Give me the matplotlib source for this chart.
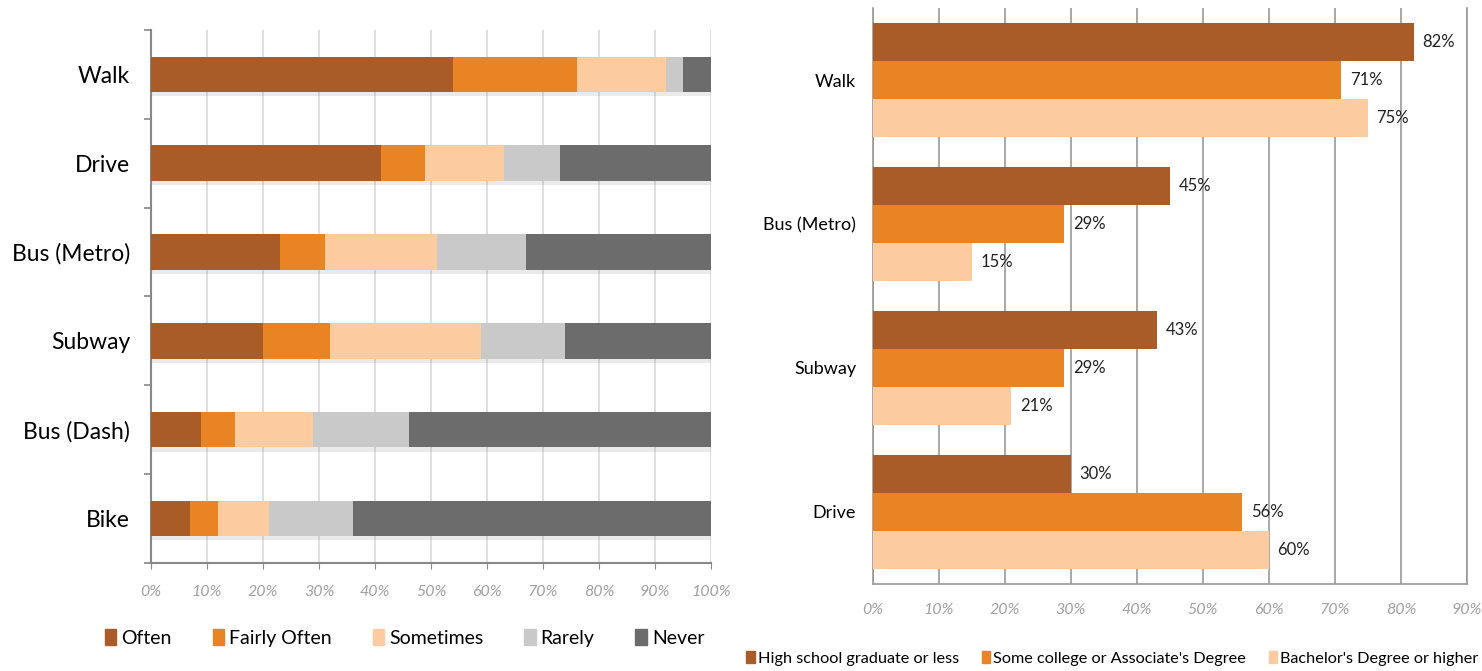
import matplotlib.pyplot as plt
import matplotlib.patheffects as pe
from matplotlib.ticker import FuncFormatter
from matplotlib.patches import Patch
import numpy as np

plt.rcParams['font.family'] = ['Lato', 'DejaVu Sans']

# left chart: frequency of use by mode
modes = ["Walk", "Drive", "Bus (Metro)", "Subway", "Bus (Dash)", "Bike"]
freq_labels = ["Often", "Fairly Often", "Sometimes", "Rarely", "Never"]
often = [54, 41, 23, 20, 9, 7]
fairly_often = [22, 8, 8, 12, 6, 5]
sometimes = [16, 14, 20, 27, 14, 9]
rarely = [3, 10, 16, 15, 17, 15]
never = [5, 27, 33, 26, 54, 64]
freq_colors = ["#A95C27", "#E98424", "#FDCBA0", "#C9C9C9", "#6C6C6C"]

# right chart: use by education level
modes2 = ["Walk", "Bus (Metro)", "Subway", "Drive"]
edu_labels = ["High school graduate or less", "Some college or Associate's Degree",
              "Bachelor's Degree or higher"]
high_school = [82, 45, 43, 30]
some_college = [71, 29, 29, 56]
bachelor = [75, 15, 21, 60]
edu_colors = ["#A95C27", "#E98424", "#FDCBA0"]

fig = plt.figure(figsize=(14.82, 6.71), dpi=100)
pct = FuncFormatter(lambda v, p: f"{v:.0f}%")

# ---- left
ax1 = fig.add_axes([0.1019, 0.161, 0.3779, 0.7943])
y = np.arange(len(modes))
left = np.zeros(len(modes))
shadow = [pe.SimplePatchShadow(offset=(0, -3), alpha=0.15, shadow_rgbFace="#777777"), pe.Normal()]
for vals, c in zip([often, fairly_often, sometimes, rarely, never], freq_colors):
    bars = ax1.barh(y, vals, left=left, height=0.4, color=c, zorder=3)
    for b in bars:
        b.set_path_effects(shadow)
    left += np.array(vals)
ax1.set_xlim(0, 100)
ax1.set_ylim(len(modes) - 0.5, -0.5)
ax1.set_xticks(np.arange(0, 101, 10))
ax1.xaxis.set_major_formatter(pct)
ax1.set_yticks(y)
ax1.set_yticklabels(modes, fontsize=16.5)
ax1.set_yticks(np.arange(-0.5, len(modes), 1), minor=True)
ax1.tick_params(axis="y", which="major", length=0, pad=15)
ax1.tick_params(axis="y", which="minor", length=5, color="#888888", width=1.2)
ax1.tick_params(axis="x", length=4, color="#888888", labelcolor="#A0A0A0", pad=12, labelsize=11.5)
for t in ax1.get_xticklabels():
    t.set_fontstyle("italic")
ax1.grid(axis="x", color="#D9D9D9", linewidth=1.2, zorder=0)
ax1.set_axisbelow(True)
for s in ["top", "right"]:
    ax1.spines[s].set_visible(False)
for s in ["left", "bottom"]:
    ax1.spines[s].set_color("#888888")
    ax1.spines[s].set_linewidth(1.5)

h1 = [Patch(color=c) for c in freq_colors]
fig.legend(h1, freq_labels, loc="center", bbox_to_anchor=(0.273, 0.049), ncol=5,
           frameon=False, fontsize=14, handlelength=0.6, handleheight=0.9,
           handletextpad=0.25, columnspacing=2.1)

# ---- right
ax2 = fig.add_axes([0.589, 0.13, 0.4008, 0.858])
y2 = np.arange(len(modes2))
bh = 0.265
for i, (vals, c) in enumerate(zip([high_school, some_college, bachelor], edu_colors)):
    pos = y2 + (i - 1) * bh
    ax2.barh(pos, vals, height=bh, color=c, zorder=3)
    for p, v in zip(pos, vals):
        ax2.text(v + 1.3, p, f"{v}%", va="center", ha="left", fontsize=12, color="#222222")
ax2.set_xlim(0, 90)
ax2.set_ylim(len(modes2) - 0.5, -0.5)
ax2.set_xticks(np.arange(0, 91, 10))
ax2.xaxis.set_major_formatter(pct)
ax2.set_yticks(y2)
ax2.set_yticklabels(modes2, fontsize=13)
ax2.tick_params(axis="y", length=0, pad=12)
ax2.tick_params(axis="x", length=0, labelcolor="#A0A0A0", pad=14, labelsize=11.5)
for t in ax2.get_xticklabels():
    t.set_fontstyle("italic")
ax2.grid(axis="x", color="#999999", linewidth=1.2, zorder=0)
ax2.set_axisbelow(True)
ax2.spines["top"].set_visible(False)
for s in ["left", "bottom", "right"]:
    ax2.spines[s].set_color("#999999")
    ax2.spines[s].set_linewidth(1.2)

h2 = [Patch(color=c) for c in edu_colors]
fig.legend(h2, edu_labels, loc="center", bbox_to_anchor=(0.7506, 0.019), ncol=3,
           frameon=False, fontsize=11.7, handlelength=0.5, handleheight=0.8,
           handletextpad=0.2, columnspacing=1.4, borderpad=0.1, borderaxespad=0)

fig.savefig("out.png", dpi=100)
